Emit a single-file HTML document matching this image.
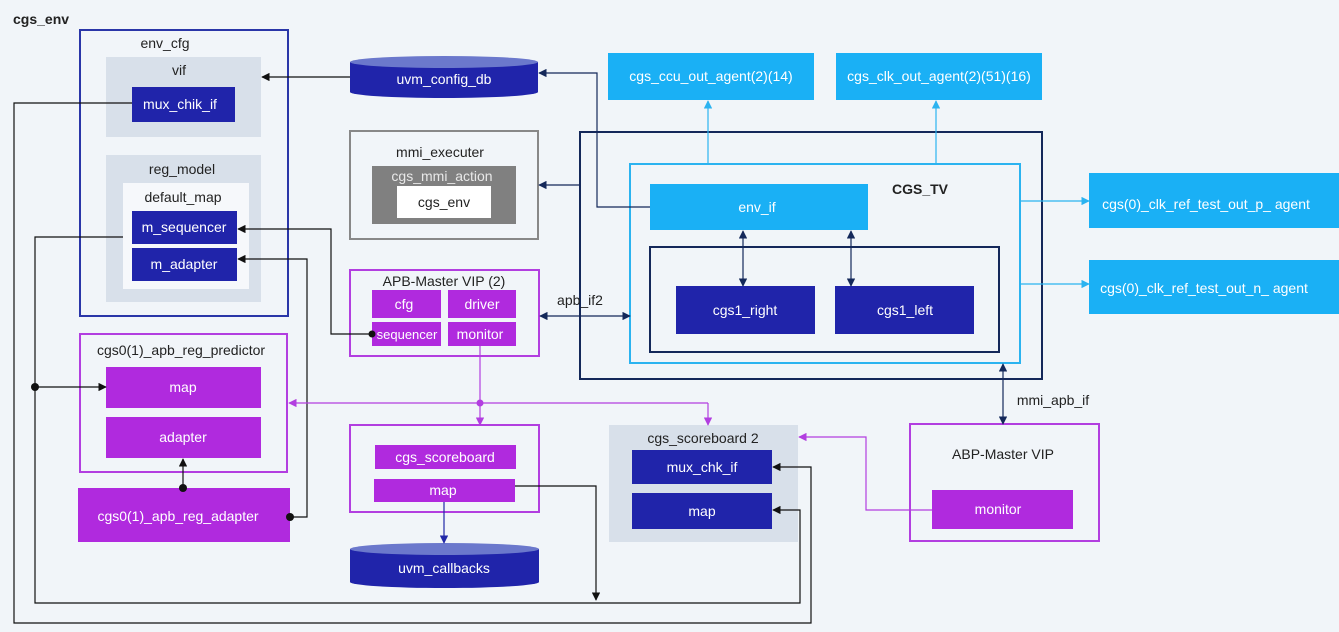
<!DOCTYPE html>
<html><head><meta charset="utf-8"><style>
html,body{margin:0;padding:0;background:#f1f5f9;}
svg{display:block;font-family:"Liberation Sans",sans-serif;}
text{font-size:14px;}
.w{fill:#fff;}
.d{fill:#222;}
</style></head><body>
<svg width="1339" height="632" viewBox="0 0 1339 632" xmlns="http://www.w3.org/2000/svg">
<defs>
<marker id="ab" viewBox="0 0 10 10" refX="9" refY="5" markerWidth="7" markerHeight="7" orient="auto-start-reverse"><path d="M0,0L10,5L0,10z" fill="#111"/></marker>
<marker id="an" viewBox="0 0 10 10" refX="9" refY="5" markerWidth="7" markerHeight="7" orient="auto-start-reverse"><path d="M0,0L10,5L0,10z" fill="#14285a"/></marker>
<marker id="al" viewBox="0 0 10 10" refX="9" refY="5" markerWidth="7" markerHeight="7" orient="auto-start-reverse"><path d="M0,0L10,5L0,10z" fill="#2bb3f0"/></marker>
<marker id="ap" viewBox="0 0 10 10" refX="9" refY="5" markerWidth="7" markerHeight="7" orient="auto-start-reverse"><path d="M0,0L10,5L0,10z" fill="#b23ee0"/></marker>
<marker id="ad" viewBox="0 0 10 10" refX="9" refY="5" markerWidth="7" markerHeight="7" orient="auto-start-reverse"><path d="M0,0L10,5L0,10z" fill="#2228a8"/></marker>
</defs>
<rect width="1339" height="632" fill="#f1f5f9"/>
<text x="13" y="24" style="font-size:14px;font-weight:bold" class="d">cgs_env</text>

<rect x="80" y="30" width="208" height="286" fill="none" stroke="#2a36a8" stroke-width="2"/>
<text x="165" y="48" text-anchor="middle" class="d">env_cfg</text>
<rect x="106" y="57" width="155" height="80" fill="#d8e0ea"/>
<text x="179" y="75" text-anchor="middle" class="d">vif</text>
<rect x="132" y="87" width="103" height="35" fill="#2024aa"/>
<text x="180" y="109" text-anchor="middle" class="w">mux_chik_if</text>
<rect x="106" y="155" width="155" height="147" fill="#d8e0ea"/>
<text x="182" y="174" text-anchor="middle" class="d">reg_model</text>
<rect x="123" y="183" width="126" height="106" fill="#f6f8fb"/>
<text x="183" y="202" text-anchor="middle" class="d">default_map</text>
<rect x="132" y="211" width="105" height="33" fill="#2024aa"/>
<text x="184" y="232" text-anchor="middle" class="w">m_sequencer</text>
<rect x="132" y="248" width="105" height="33" fill="#2024aa"/>
<text x="184" y="269" text-anchor="middle" class="w">m_adapter</text>

<path d="M350,62 L350,92 A94,6 0 0 0 538,92 L538,62 Z" fill="#2024aa"/>
<ellipse cx="444" cy="62" rx="94" ry="6" fill="#6b78cc"/>
<text x="444" y="84" text-anchor="middle" class="w">uvm_config_db</text>

<rect x="350" y="131" width="188" height="108" fill="none" stroke="#888" stroke-width="2"/>
<text x="440" y="157" text-anchor="middle" class="d">mmi_executer</text>
<rect x="372" y="166" width="144" height="58" fill="#808080"/>
<text x="442" y="181" text-anchor="middle" fill="#e8e8e8">cgs_mmi_action</text>
<rect x="397" y="186" width="94" height="32" fill="#fff"/>
<text x="444" y="207" text-anchor="middle" class="d">cgs_env</text>

<rect x="350" y="270" width="189" height="86" fill="none" stroke="#b23ee0" stroke-width="2"/>
<text x="444" y="286" text-anchor="middle" class="d">APB-Master VIP (2)</text>
<rect x="372" y="290" width="69" height="28" fill="#b02ade"/>
<text x="404" y="309" text-anchor="middle" class="w">cfg</text>
<rect x="448" y="290" width="68" height="28" fill="#b02ade"/>
<text x="482" y="309" text-anchor="middle" class="w">driver</text>
<rect x="372" y="322" width="69" height="24" fill="#b02ade"/>
<text x="407" y="339" text-anchor="middle" class="w" style="font-size:13px">sequencer</text>
<rect x="448" y="322" width="68" height="24" fill="#b02ade"/>
<text x="480" y="339" text-anchor="middle" class="w">monitor</text>

<rect x="608" y="53" width="206" height="47" fill="#1ab0f5"/>
<text x="711" y="81" text-anchor="middle" class="w">cgs_ccu_out_agent(2)(14)</text>
<rect x="836" y="53" width="206" height="47" fill="#1ab0f5"/>
<text x="939" y="81" text-anchor="middle" class="w">cgs_clk_out_agent(2)(51)(16)</text>

<rect x="580" y="132" width="462" height="247" fill="none" stroke="#14285a" stroke-width="2"/>
<rect x="630" y="164" width="390" height="199" fill="none" stroke="#2bb3f0" stroke-width="2"/>
<text x="920" y="194" text-anchor="middle" style="font-size:14px;font-weight:bold" class="d">CGS_TV</text>
<rect x="650" y="184" width="218" height="46" fill="#1ab0f5"/>
<text x="757" y="212" text-anchor="middle" class="w">env_if</text>
<rect x="650" y="247" width="349" height="105" fill="none" stroke="#14285a" stroke-width="2"/>
<rect x="676" y="286" width="139" height="48" fill="#2024aa"/>
<text x="745" y="315" text-anchor="middle" class="w">cgs1_right</text>
<rect x="835" y="286" width="139" height="48" fill="#2024aa"/>
<text x="905" y="315" text-anchor="middle" class="w">cgs1_left</text>

<rect x="1089" y="173" width="250" height="55" fill="#1ab0f5"/>
<text x="1206" y="209" text-anchor="middle" class="w">cgs(0)_clk_ref_test_out_p_ agent</text>
<rect x="1089" y="260" width="250" height="54" fill="#1ab0f5"/>
<text x="1204" y="293" text-anchor="middle" class="w">cgs(0)_clk_ref_test_out_n_ agent</text>

<text x="580" y="305" text-anchor="middle" class="d">apb_if2</text>
<text x="1053" y="405" text-anchor="middle" class="d">mmi_apb_if</text>

<rect x="910" y="424" width="189" height="117" fill="none" stroke="#b23ee0" stroke-width="2"/>
<text x="1003" y="459" text-anchor="middle" class="d">ABP-Master VIP</text>
<rect x="932" y="490" width="141" height="39" fill="#b02ade"/>
<text x="998" y="514" text-anchor="middle" class="w">monitor</text>

<rect x="609" y="425" width="189" height="117" fill="#d8e0ea"/>
<text x="703" y="443" text-anchor="middle" class="d">cgs_scoreboard 2</text>
<rect x="632" y="450" width="140" height="34" fill="#2024aa"/>
<text x="702" y="472" text-anchor="middle" class="w">mux_chk_if</text>
<rect x="632" y="493" width="140" height="36" fill="#2024aa"/>
<text x="702" y="516" text-anchor="middle" class="w">map</text>

<rect x="80" y="334" width="207" height="138" fill="none" stroke="#b23ee0" stroke-width="2"/>
<text x="181" y="355" text-anchor="middle" class="d">cgs0(1)_apb_reg_predictor</text>
<rect x="106" y="367" width="155" height="41" fill="#b02ade"/>
<text x="183" y="392" text-anchor="middle" class="w">map</text>
<rect x="106" y="417" width="155" height="41" fill="#b02ade"/>
<text x="183" y="442" text-anchor="middle" class="w">adapter</text>
<rect x="78" y="488" width="212" height="54" fill="#b02ade"/>
<text x="178" y="521" text-anchor="middle" class="w">cgs0(1)_apb_reg_adapter</text>

<rect x="350" y="425" width="189" height="87" fill="none" stroke="#b23ee0" stroke-width="2"/>
<rect x="375" y="445" width="141" height="24" fill="#b02ade"/>
<text x="445" y="462" text-anchor="middle" class="w">cgs_scoreboard</text>
<rect x="374" y="479" width="141" height="23" fill="#b02ade"/>
<text x="443" y="495" text-anchor="middle" class="w">map</text>

<path d="M350,549 L350,582 A94,6 0 0 0 539,582 L539,549 Z" fill="#2024aa"/>
<ellipse cx="444.5" cy="549" rx="94.5" ry="6" fill="#6b78cc"/>
<text x="444" y="573" text-anchor="middle" class="w">uvm_callbacks</text>

<g fill="none" stroke-width="1.2">
<path d="M350,77 H262" stroke="#111" marker-end="url(#ab)"/>
<path d="M650,207 H597 V73 H539" stroke="#14285a" marker-end="url(#an)"/>
<path d="M580,185 H539" stroke="#14285a" marker-end="url(#an)"/>
<path d="M708,164 V101" stroke="#2bb3f0" marker-end="url(#al)"/>
<path d="M936,164 V101" stroke="#2bb3f0" marker-end="url(#al)"/>
<path d="M1020,201 H1089" stroke="#2bb3f0" marker-end="url(#al)"/>
<path d="M1020,284 H1089" stroke="#2bb3f0" marker-end="url(#al)"/>
<path d="M743,231 V286" stroke="#14285a" marker-start="url(#an)" marker-end="url(#an)"/>
<path d="M851,231 V286" stroke="#14285a" marker-start="url(#an)" marker-end="url(#an)"/>
<path d="M540,316 H630" stroke="#14285a" marker-start="url(#an)" marker-end="url(#an)"/>
<path d="M1003,364 V424" stroke="#14285a" marker-start="url(#an)" marker-end="url(#an)"/>
<path d="M132,103 H14 V623 H811 V467 H773" stroke="#111" marker-end="url(#ab)"/>
<path d="M123,237 H35 V603 H800 V510 H773" stroke="#111" marker-end="url(#ab)"/>
<path d="M35,387 H106" stroke="#111" marker-end="url(#ab)"/>
<path d="M372,334 H331 V229 H238" stroke="#111" marker-end="url(#ab)"/>
<path d="M290,517 H307 V259 H238" stroke="#111" marker-end="url(#ab)"/>
<path d="M183,488 V459" stroke="#111" marker-end="url(#ab)"/>
<path d="M480,346 V425" stroke="#b23ee0" marker-end="url(#ap)"/>
<path d="M708,403 H289" stroke="#b23ee0" marker-end="url(#ap)"/>
<path d="M708,403 V425" stroke="#b23ee0" marker-end="url(#ap)"/>
<path d="M932,510 H866 V437 H799" stroke="#b23ee0" marker-end="url(#ap)"/>
<path d="M515,486 H596 V600" stroke="#111" marker-end="url(#ab)"/>
<path d="M444,502 V543" stroke="#2228a8" marker-end="url(#ad)"/>
</g>
<g fill="#111">
<circle cx="35" cy="387" r="4"/><circle cx="372" cy="334" r="3.5"/><circle cx="290" cy="517" r="4"/><circle cx="183" cy="488" r="4"/>
</g>
<circle cx="480" cy="403" r="3.5" fill="#b23ee0"/>
</svg>
</body></html>
